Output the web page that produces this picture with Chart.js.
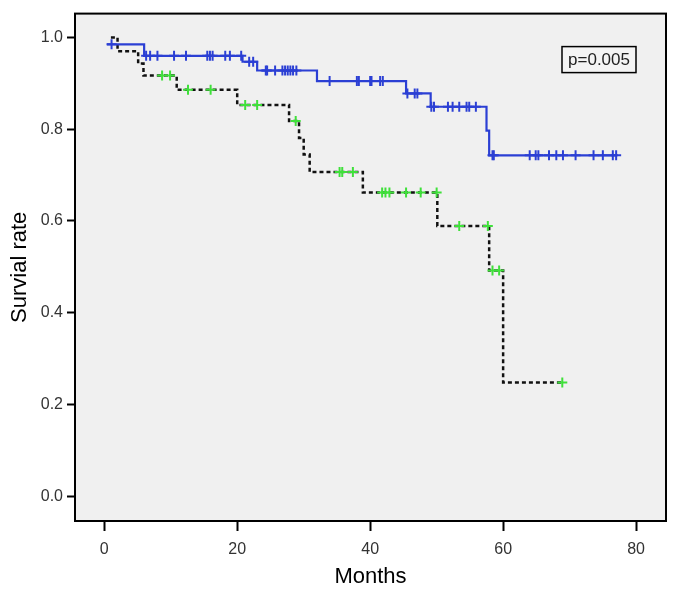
<!DOCTYPE html>
<html>
<head>
<meta charset="utf-8">
<script src="https://cdn.jsdelivr.net/npm/chart.js@4/dist/chart.umd.min.js"></script>
<style>
  html, body { margin: 0; padding: 0; background: #fff; }
  #wrap { width: 678px; height: 593px; }
</style>
</head>
<body>
<div id="wrap"><canvas id="km"></canvas></div>
<script>
// group A (blue, solid): event times and survival after each event
const blueStart = [0.4, 0.985];
const blueEventTimes = [6.0, 20.8, 23.0, 32.0, 45.4, 49.1, 57.5, 57.9];
const blueEventSurv  = [0.960, 0.947, 0.928, 0.905, 0.878, 0.849, 0.797, 0.743];
const blueEnd = 77.0;
const blueCensored = [1.1, 6.3, 6.9, 8.0, 10.5, 12.3, 15.5, 15.9, 16.3, 18.2, 18.9, 20.6,
  21.8, 22.4, 24.3, 24.5, 25.7, 26.8, 27.2, 27.6, 28.0, 28.4, 28.9, 33.9, 38.0, 38.3,
  40.0, 40.2, 41.5, 41.9, 45.6, 46.7, 47.1, 49.2, 49.6, 51.7, 52.4, 53.4, 54.5, 54.9,
  55.9, 58.4, 58.6, 64.0, 64.9, 65.3, 66.9, 68.0, 69.0, 70.9, 73.6, 75.0, 76.5, 77.0];

// group B (black, dashed)
const blackStart = [1.0, 1.0];
const blackEventTimes = [2.0, 5.1, 5.9, 10.9, 20.0, 27.8, 29.3, 30.0, 30.9, 38.9, 50.1, 57.9, 60.0];
const blackEventSurv  = [0.970, 0.943, 0.917, 0.886, 0.853, 0.818, 0.781, 0.745, 0.707, 0.662, 0.589, 0.492, 0.248];
const blackEnd = 68.9;
const blackCensored = [8.7, 9.9, 12.6, 16.0, 21.2, 23.0, 28.8, 35.4, 35.8, 37.4, 41.8, 42.3,
  42.9, 45.4, 47.6, 50.0, 53.4, 57.7, 58.4, 59.4, 68.9];

const xTicks = [0, 20, 40, 60, 80];
const yTicks = [0.0, 0.2, 0.4, 0.6, 0.8, 1.0];
const pLabel = "p=0.005";

function stepPoints(start, times, surv, end) {
  const pts = [{ x: start[0], y: start[1] }];
  times.forEach((t, i) => pts.push({ x: t, y: surv[i] }));
  pts.push({ x: end, y: surv[surv.length - 1] });
  return pts;
}

function survAt(t, start, times, surv) {
  let s = start[1];
  times.forEach((et, i) => { if (et <= t) s = surv[i]; });
  return s;
}

const blueLine = stepPoints(blueStart, blueEventTimes, blueEventSurv, blueEnd);
const blackLine = stepPoints(blackStart, blackEventTimes, blackEventSurv, blackEnd);
const blueMarks = blueCensored.map(t => ({ x: t, y: survAt(t, blueStart, blueEventTimes, blueEventSurv) }));
const blackMarks = blackCensored.map(t => ({ x: t, y: survAt(t, blackStart, blackEventTimes, blackEventSurv) }));

const BLUE = "#2b3fd4";
const GREEN = "#3fe03a";

const frame = {
  id: "frame",
  beforeDatasetsDraw(chart) {
    const { ctx, chartArea: a } = chart;
    ctx.save();
    ctx.fillStyle = "#f0f0f0";
    ctx.fillRect(a.left, a.top, a.right - a.left, a.bottom - a.top);
    ctx.restore();
  },
  afterDraw(chart) {
    const { ctx, chartArea: a } = chart;
    ctx.save();
    ctx.strokeStyle = "#000";
    ctx.lineWidth = 2;
    ctx.strokeRect(a.left, a.top, a.right - a.left, a.bottom - a.top);
    // p-value box
    ctx.font = "17px 'Liberation Sans', Arial, sans-serif";
    const w = 74, h = 26;
    const bx = a.right - 30 - w, by = a.top + 33;
    ctx.fillStyle = "#f4f4f4";
    ctx.fillRect(bx, by, w, h);
    ctx.lineWidth = 1.5;
    ctx.strokeRect(bx, by, w, h);
    ctx.fillStyle = "#222";
    ctx.textAlign = "center";
    ctx.textBaseline = "middle";
    ctx.fillText(pLabel, bx + w / 2, by + h / 2 + 1);
    ctx.restore();
  }
};

const tickFont = { family: "'Liberation Sans', Arial, sans-serif", size: 16 };
const titleFont = { family: "'Liberation Sans', Arial, sans-serif", size: 22 };

new Chart(document.getElementById("km"), {
  type: "line",
  data: {
    datasets: [
      {
        type: "scatter", data: blueMarks, showLine: false,
        pointStyle: "cross", pointRadius: 5, borderColor: BLUE, borderWidth: 2,
        backgroundColor: BLUE, pointHoverRadius: 5
      },
      {
        data: blueLine, stepped: true, borderColor: BLUE, borderWidth: 2.2,
        pointRadius: 0, fill: false
      },
      {
        type: "scatter", data: blackMarks, showLine: false,
        pointStyle: "cross", pointRadius: 5, borderColor: GREEN, borderWidth: 2,
        backgroundColor: GREEN, pointHoverRadius: 5
      },
      {
        data: blackLine, stepped: true, borderColor: "#111", borderWidth: 2.5,
        borderDash: [4, 3], pointRadius: 0, fill: false
      }
    ]
  },
  options: {
    responsive: true,
    maintainAspectRatio: false,
    animation: false,
    layout: { padding: { top: 12, right: 12, left: 0, bottom: 0 } },
    plugins: { legend: { display: false }, tooltip: { enabled: false } },
    scales: {
      x: {
        type: "linear", min: -4.4, max: 84.5,
        afterBuildTicks: s => { s.ticks = xTicks.map(v => ({ value: v })); },
        afterFit: s => { s.height = 72; },
        grid: { drawOnChartArea: false, drawTicks: true, tickLength: 10, tickColor: "#000", tickWidth: 2 },
        border: { display: false },
        ticks: { color: "#333", font: tickFont, padding: 9, maxRotation: 0 },
        title: { display: true, text: "Months", color: "#000", font: titleFont, padding: { top: 0, bottom: 3 } }
      },
      y: {
        type: "linear", min: -0.054, max: 1.052,
        afterBuildTicks: s => { s.ticks = yTicks.map(v => ({ value: v })); },
        afterFit: s => { s.width = 75; },
        grid: { drawOnChartArea: false, drawTicks: true, tickLength: 8, tickColor: "#000", tickWidth: 2 },
        border: { display: false },
        ticks: { color: "#333", font: tickFont, padding: 4, callback: v => v.toFixed(1) },
        title: { display: true, text: "Survial rate", color: "#000", font: titleFont, padding: { top: 7, bottom: 0 } }
      }
    }
  },
  plugins: [frame]
});
</script>
</body>
</html>
